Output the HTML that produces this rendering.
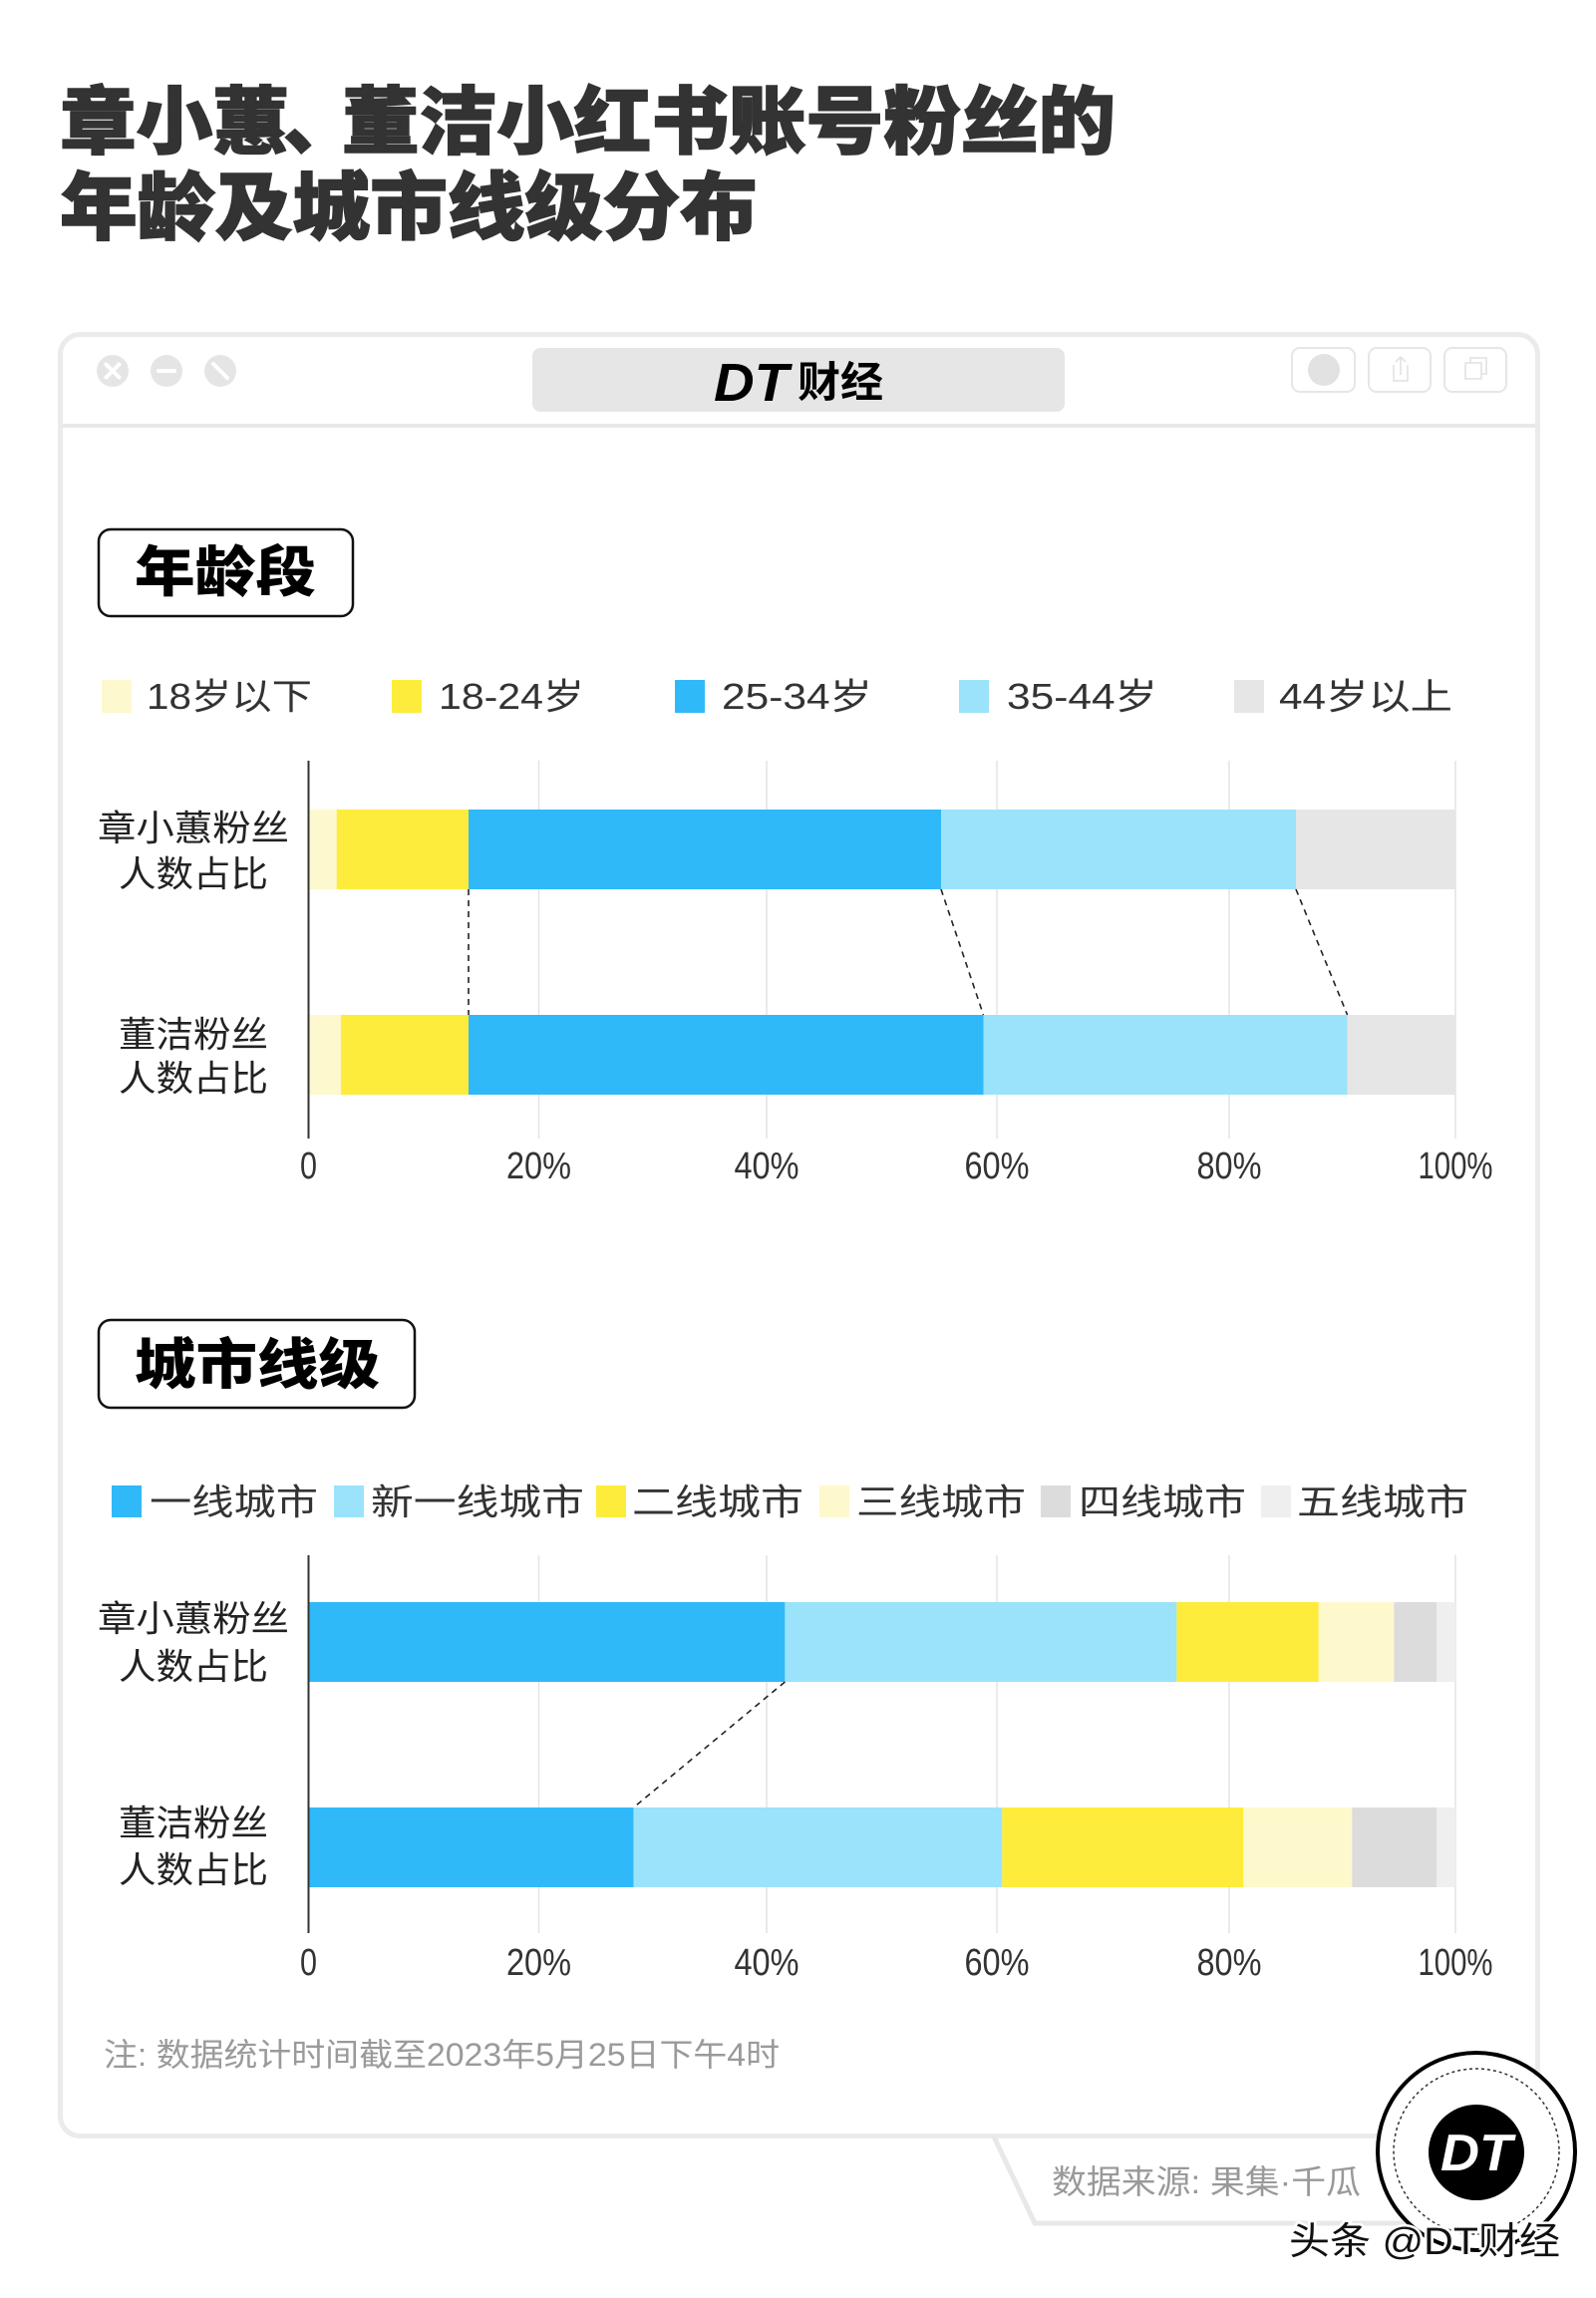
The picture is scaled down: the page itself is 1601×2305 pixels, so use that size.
<!DOCTYPE html>
<html><head><meta charset="utf-8">
<style>
html,body{margin:0;padding:0;background:#fff;}
svg{display:block;}
text{font-family:"Liberation Sans","Noto Sans CJK SC",sans-serif;}
</style></head><body>
<svg width="1601" height="2305" viewBox="0 0 1601 2305" xmlns="http://www.w3.org/2000/svg">
<rect width="1601" height="2305" fill="#fff"/>

<!-- Title -->
<g font-size="74" font-weight="900" fill="#333" stroke="#333" stroke-width="1.5">
<text x="60" y="148" textLength="230" lengthAdjust="spacingAndGlyphs">章小蕙</text>
<text x="284" y="148">、</text>
<text x="343" y="148" textLength="776" lengthAdjust="spacingAndGlyphs">董洁小红书账号粉丝的</text>
<text x="60" y="234" textLength="700" lengthAdjust="spacingAndGlyphs">年龄及城市线级分布</text>
</g>

<!-- Window frame -->
<rect x="60.5" y="335.5" width="1482" height="1807" rx="20" fill="none" stroke="#ebebeb" stroke-width="5"/>
<line x1="60" y1="427" x2="1542" y2="427" stroke="#e9e9e9" stroke-width="4"/>

<!-- traffic buttons -->
<circle cx="113" cy="372" r="16" fill="#e5e5e5"/>
<line x1="106.5" y1="365.5" x2="119.5" y2="378.5" stroke="#fff" stroke-width="4" stroke-linecap="round"/>
<line x1="119.5" y1="365.5" x2="106.5" y2="378.5" stroke="#fff" stroke-width="4" stroke-linecap="round"/>
<circle cx="167" cy="372" r="16" fill="#e5e5e5"/>
<line x1="159" y1="372" x2="175" y2="372" stroke="#fff" stroke-width="4" stroke-linecap="round"/>
<circle cx="221" cy="372" r="16" fill="#e5e5e5"/>
<line x1="214" y1="365" x2="228" y2="379" stroke="#fff" stroke-width="4" stroke-linecap="round"/>

<!-- tab -->
<rect x="534" y="349" width="534" height="64" rx="8" fill="#e6e6e6"/>
<text x="716" y="402" font-size="54" font-weight="bold" font-style="italic" fill="#000" textLength="75" lengthAdjust="spacingAndGlyphs">DT</text>
<text x="800" y="398" font-size="42" font-weight="bold" fill="#000" textLength="86" lengthAdjust="spacingAndGlyphs">财经</text>

<!-- right icons -->
<rect x="1296" y="349" width="63" height="44" rx="8" fill="none" stroke="#e6e6e6" stroke-width="2"/>
<ellipse cx="1328" cy="371" rx="16" ry="16" fill="#e2e2e2"/>
<rect x="1373" y="349" width="62" height="44" rx="8" fill="none" stroke="#e6e6e6" stroke-width="2"/>
<path d="M1398 366 v16 h14 v-16" fill="none" stroke="#e0e0e0" stroke-width="1.5"/>
<path d="M1405 376 v-18 M1400 363 l5 -5 l5 5" fill="none" stroke="#e0e0e0" stroke-width="1.5"/>
<rect x="1449" y="349" width="62" height="44" rx="8" fill="none" stroke="#e6e6e6" stroke-width="2"/>
<rect x="1470" y="364" width="16" height="16" fill="none" stroke="#e0e0e0" stroke-width="1.5"/>
<path d="M1475 364 v-5 h16 v16 h-5" fill="none" stroke="#e0e0e0" stroke-width="1.5"/>

<!-- ===== Section 1: age ===== -->
<rect x="99" y="531" width="255" height="87" rx="12" fill="none" stroke="#111" stroke-width="2.5"/>
<text x="135" y="593" font-size="55" font-weight="900" fill="#000" textLength="182" lengthAdjust="spacingAndGlyphs">年龄段</text>

<!-- legend 1 -->
<rect x="102" y="682" width="30" height="33" fill="#fef8cf"/>
<text x="147" y="711" font-size="36" fill="#333" textLength="166" lengthAdjust="spacingAndGlyphs">18岁以下</text>
<rect x="393" y="682" width="30" height="33" fill="#fdec3c"/>
<text x="440" y="711" font-size="36" fill="#333" textLength="146" lengthAdjust="spacingAndGlyphs">18-24岁</text>
<rect x="677" y="682" width="30" height="33" fill="#30b9f9"/>
<text x="724" y="711" font-size="36" fill="#333" textLength="151" lengthAdjust="spacingAndGlyphs">25-34岁</text>
<rect x="962" y="682" width="30" height="33" fill="#9ae3fb"/>
<text x="1010" y="711" font-size="36" fill="#333" textLength="151" lengthAdjust="spacingAndGlyphs">35-44岁</text>
<rect x="1238" y="682" width="30" height="33" fill="#e6e6e6"/>
<text x="1283" y="711" font-size="36" fill="#333" textLength="174" lengthAdjust="spacingAndGlyphs">44岁以上</text>

<!-- gridlines 1 -->
<g stroke="#e4e4e4" stroke-width="1.5">
<line x1="540.5" y1="763" x2="540.5" y2="1142"/>
<line x1="769" y1="763" x2="769" y2="1142"/>
<line x1="1000" y1="763" x2="1000" y2="1142"/>
<line x1="1233" y1="763" x2="1233" y2="1142"/>
<line x1="1460" y1="763" x2="1460" y2="1142"/>
</g>

<!-- bars 1 -->
<rect x="310" y="812" width="27.7" height="80" fill="#fef8cf"/>
<rect x="337.7" y="812" width="132.3" height="80" fill="#fdec3c"/>
<rect x="470" y="812" width="474" height="80" fill="#30b9f9"/>
<rect x="944" y="812" width="356" height="80" fill="#9ae3fb"/>
<rect x="1300" y="812" width="160" height="80" fill="#e6e6e6"/>

<rect x="310" y="1018" width="32" height="80" fill="#fef8cf"/>
<rect x="342" y="1018" width="128" height="80" fill="#fdec3c"/>
<rect x="470" y="1018" width="516.5" height="80" fill="#30b9f9"/>
<rect x="986.5" y="1018" width="365.1" height="80" fill="#9ae3fb"/>
<rect x="1351.6" y="1018" width="108.4" height="80" fill="#e6e6e6"/>

<g stroke="#222" stroke-width="1.6" stroke-dasharray="6 5" fill="none">
<line x1="470" y1="892" x2="470" y2="1018"/>
<line x1="944" y1="892" x2="986.5" y2="1018"/>
<line x1="1300" y1="892" x2="1351.6" y2="1018"/>
</g>

<line x1="309.5" y1="763" x2="309.5" y2="1142" stroke="#333" stroke-width="2"/>

<!-- y labels 1 -->
<g font-size="36" fill="#222" text-anchor="middle">
<text x="194" y="843" textLength="192" lengthAdjust="spacingAndGlyphs">章小蕙粉丝</text>
<text x="194" y="889" textLength="150" lengthAdjust="spacingAndGlyphs">人数占比</text>
<text x="194" y="1050" textLength="150" lengthAdjust="spacingAndGlyphs">董洁粉丝</text>
<text x="194" y="1094" textLength="150" lengthAdjust="spacingAndGlyphs">人数占比</text>
</g>

<!-- ticks 1 -->
<g font-size="38" fill="#333" text-anchor="middle">
<text x="309.5" y="1182" textLength="17" lengthAdjust="spacingAndGlyphs">0</text>
<text x="540.5" y="1182" textLength="65" lengthAdjust="spacingAndGlyphs">20%</text>
<text x="769" y="1182" textLength="65" lengthAdjust="spacingAndGlyphs">40%</text>
<text x="1000" y="1182" textLength="65" lengthAdjust="spacingAndGlyphs">60%</text>
<text x="1233" y="1182" textLength="65" lengthAdjust="spacingAndGlyphs">80%</text>
<text x="1460" y="1182" textLength="75" lengthAdjust="spacingAndGlyphs">100%</text>
</g>

<!-- ===== Section 2: city tier ===== -->
<rect x="99" y="1324" width="317" height="88" rx="12" fill="none" stroke="#111" stroke-width="2.5"/>
<text x="135" y="1388" font-size="55" font-weight="900" fill="#000" textLength="246" lengthAdjust="spacingAndGlyphs">城市线级</text>

<!-- legend 2 -->
<rect x="112" y="1490" width="30" height="32" fill="#30b9f9"/>
<text x="150" y="1519" font-size="36" fill="#333" textLength="169" lengthAdjust="spacingAndGlyphs">一线城市</text>
<rect x="335" y="1490" width="30" height="32" fill="#9ae3fb"/>
<text x="372" y="1519" font-size="36" fill="#333" textLength="214" lengthAdjust="spacingAndGlyphs">新一线城市</text>
<rect x="598" y="1490" width="30" height="32" fill="#fdec3c"/>
<text x="634" y="1519" font-size="36" fill="#333" textLength="172" lengthAdjust="spacingAndGlyphs">二线城市</text>
<rect x="822" y="1490" width="30" height="32" fill="#fef8cd"/>
<text x="859" y="1519" font-size="36" fill="#333" textLength="170" lengthAdjust="spacingAndGlyphs">三线城市</text>
<rect x="1044" y="1490" width="30" height="32" fill="#dcdcdc"/>
<text x="1082" y="1519" font-size="36" fill="#333" textLength="168" lengthAdjust="spacingAndGlyphs">四线城市</text>
<rect x="1265" y="1490" width="30" height="32" fill="#efefef"/>
<text x="1301" y="1519" font-size="36" fill="#333" textLength="172" lengthAdjust="spacingAndGlyphs">五线城市</text>

<!-- gridlines 2 -->
<g stroke="#e4e4e4" stroke-width="1.5">
<line x1="540.5" y1="1560" x2="540.5" y2="1939"/>
<line x1="769" y1="1560" x2="769" y2="1939"/>
<line x1="1000" y1="1560" x2="1000" y2="1939"/>
<line x1="1233" y1="1560" x2="1233" y2="1939"/>
<line x1="1460" y1="1560" x2="1460" y2="1939"/>
</g>

<!-- bars 2 -->
<rect x="310" y="1607" width="477.4" height="80" fill="#30b9f9"/>
<rect x="787.4" y="1607" width="393" height="80" fill="#9ae3fb"/>
<rect x="1180.4" y="1607" width="142.4" height="80" fill="#fdec3c"/>
<rect x="1322.8" y="1607" width="75.5" height="80" fill="#fef8cd"/>
<rect x="1398.3" y="1607" width="42.7" height="80" fill="#dcdcdc"/>
<rect x="1441" y="1607" width="19" height="80" fill="#efefef"/>

<rect x="310" y="1813" width="325.6" height="80" fill="#30b9f9"/>
<rect x="635.6" y="1813" width="369.7" height="80" fill="#9ae3fb"/>
<rect x="1005.3" y="1813" width="242" height="80" fill="#fdec3c"/>
<rect x="1247.3" y="1813" width="109" height="80" fill="#fef8cd"/>
<rect x="1356.3" y="1813" width="84.7" height="80" fill="#dcdcdc"/>
<rect x="1441" y="1813" width="19" height="80" fill="#efefef"/>

<line x1="787.4" y1="1687" x2="635.6" y2="1813" stroke="#222" stroke-width="1.6" stroke-dasharray="6 5"/>

<line x1="309.5" y1="1560" x2="309.5" y2="1939" stroke="#333" stroke-width="2"/>

<!-- y labels 2 -->
<g font-size="36" fill="#222" text-anchor="middle">
<text x="194" y="1636" textLength="192" lengthAdjust="spacingAndGlyphs">章小蕙粉丝</text>
<text x="194" y="1684" textLength="150" lengthAdjust="spacingAndGlyphs">人数占比</text>
<text x="194" y="1841" textLength="150" lengthAdjust="spacingAndGlyphs">董洁粉丝</text>
<text x="194" y="1888" textLength="150" lengthAdjust="spacingAndGlyphs">人数占比</text>
</g>

<!-- ticks 2 -->
<g font-size="38" fill="#333" text-anchor="middle">
<text x="309.5" y="1981" textLength="17" lengthAdjust="spacingAndGlyphs">0</text>
<text x="540.5" y="1981" textLength="65" lengthAdjust="spacingAndGlyphs">20%</text>
<text x="769" y="1981" textLength="65" lengthAdjust="spacingAndGlyphs">40%</text>
<text x="1000" y="1981" textLength="65" lengthAdjust="spacingAndGlyphs">60%</text>
<text x="1233" y="1981" textLength="65" lengthAdjust="spacingAndGlyphs">80%</text>
<text x="1460" y="1981" textLength="75" lengthAdjust="spacingAndGlyphs">100%</text>
</g>

<!-- note -->
<text x="104" y="2072" font-size="32" fill="#9a9a9a" textLength="678" lengthAdjust="spacingAndGlyphs">注: 数据统计时间截至2023年5月25日下午4时</text>

<!-- source tab -->
<polyline points="997,2143 1038,2230 1420,2230" fill="none" stroke="#e8e8e8" stroke-width="5"/>
<text x="1055" y="2200" font-size="33" fill="#999" textLength="310" lengthAdjust="spacingAndGlyphs">数据来源: 果集·千瓜</text>

<!-- logo circle -->
<circle cx="1481" cy="2158" r="99" fill="#fff" stroke="#000" stroke-width="4"/>
<circle cx="1481" cy="2158" r="83" fill="none" stroke="#333" stroke-width="1.5" stroke-dasharray="3 3"/>
<circle cx="1481" cy="2159" r="48" fill="#000"/>
<text x="1481" y="2177" text-anchor="middle" font-size="52" font-weight="bold" font-style="italic" fill="#fff" textLength="72" lengthAdjust="spacingAndGlyphs">DT</text>

<text x="1293" y="2261" font-size="38" fill="#111" stroke="#fff" stroke-width="5" paint-order="stroke" textLength="272" lengthAdjust="spacingAndGlyphs">头条 @DT财经</text>
</svg>
</body></html>
